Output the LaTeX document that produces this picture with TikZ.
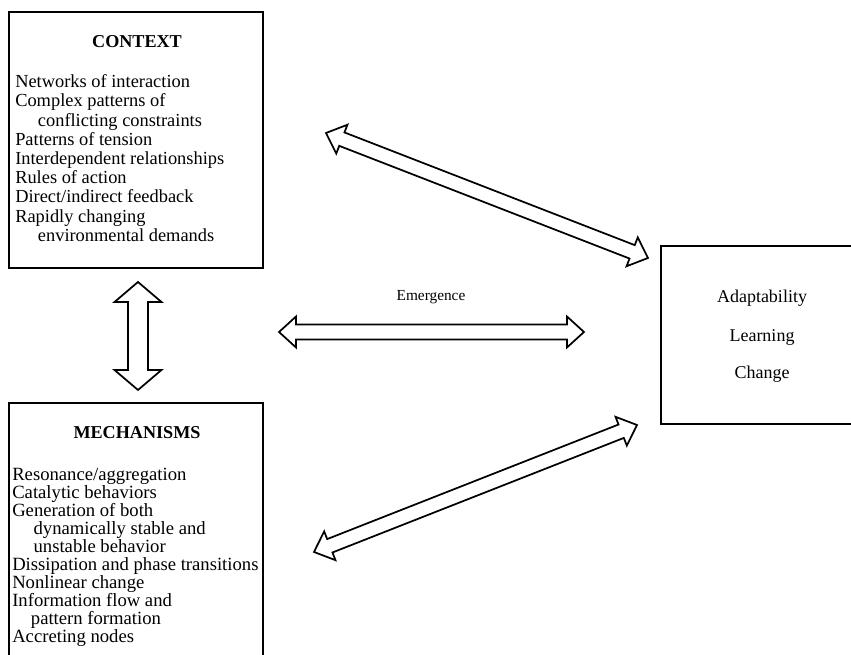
\documentclass[tikz,border=0pt]{standalone}
\usepackage{fontspec}
\setmainfont{Liberation Serif}
\usetikzlibrary{calc}
\def\dblarrow[#1](#2)(#3)(#4:#5:#6){\draw[#1] (#2) -- ($(#2)!#6!(#3)!#5!90:(#3)$) -- ($(#2)!#6!(#3)!#4!90:(#3)$) -- ($(#3)!#6!(#2)!#4!-90:(#2)$) -- ($(#3)!#6!(#2)!#5!-90:(#2)$) -- (#3) -- ($(#3)!#6!(#2)!#5!90:(#2)$) -- ($(#3)!#6!(#2)!#4!90:(#2)$) -- ($(#2)!#6!(#3)!#4!-90:(#3)$) -- ($(#2)!#6!(#3)!#5!-90:(#3)$) -- cycle;}

\begin{document}
\begin{tikzpicture}[x=0.75pt, y=-0.75pt,
		box/.style={draw, line width=1.7pt, inner sep=0pt},
		heading/.style={font=\fontsize{13.6}{14.5}\selectfont\bfseries, anchor=base, inner sep=0pt},
		itemlist/.style={align=left, anchor=north west, inner sep=0pt}]
			%%%%% START %%%%%
			
			\useasboundingbox (0, 0) rectangle (851, 655);
			
			\node[box, minimum width=190.5pt, minimum height=192pt] (context) at (136, 140) {};
			\node[heading] (contexttitle) at (137, 48) {CONTEXT};
			\node[itemlist, font=\fontsize{13.8}{14.4}\selectfont] (contextitems) at (15, 74.5) {Networks of interaction\\
				Complex patterns of\\
				\hspace*{17pt}conflicting constraints\\
				Patterns of tension\\
				Interdependent relationships\\
				Rules of action\\
				Direct/indirect feedback\\
				Rapidly changing\\
				\hspace*{17pt}environmental demands};
			
			\node[box, minimum width=190.5pt, minimum height=215.25pt] (mechanisms) at (136, 546.5) {};
			\node[heading] (mechanismstitle) at (137, 439) {MECHANISMS};
			\node[itemlist, font=\fontsize{14}{13.5}\selectfont] (mechanismsitems) at (12, 467.5) {Resonance/aggregation\\
				Catalytic behaviors\\
				Generation of both\\
				\hspace*{16pt}dynamically stable and\\
				\hspace*{16pt}unstable behavior\\
				Dissipation and phase transitions\\
				Nonlinear change\\
				Information flow and\\
				\hspace*{14pt}pattern formation\\
				Accreting nodes};
			
			\node[box, minimum width=156.75pt, minimum height=133.5pt] (outcome) at (765.5, 335) {};
			\node[anchor=base, inner sep=0pt, font=\fontsize{13.5}{14.5}\selectfont] (adapt) at (762, 303) {Adaptability};
			\node[anchor=base, inner sep=0pt, font=\fontsize{13.5}{14.5}\selectfont] (learn) at (762, 341.5) {Learning};
			\node[anchor=base, inner sep=0pt, font=\fontsize{13.5}{14.5}\selectfont] (change) at (762, 379) {Change};
			
			\node[anchor=base, inner sep=0pt, font=\fontsize{11.5}{13}\selectfont] (emergence) at (431, 300.5) {Emergence};
			
			\coordinate (ctxS) at (138, 282);
			\coordinate (mechN) at (138, 390);
			\coordinate (emL) at (279, 332);
			\coordinate (emR) at (584, 332);
			\coordinate (upL) at (326, 133);
			\coordinate (upR) at (648, 258);
			\coordinate (loL) at (314, 552);
			\coordinate (loR) at (637, 425);
			
			\dblarrow[line width=1.3pt, fill=white](ctxS)(mechN)(7.5pt:17.6pt:15pt);
			\dblarrow[line width=1.3pt, fill=white](emL)(emR)(5.6pt:11.6pt:12.75pt);
			\dblarrow[line width=1.3pt, fill=white](upL)(upR)(5.4pt:11.6pt:12.75pt);
			\dblarrow[line width=1.3pt, fill=white](loL)(loR)(5.4pt:11.6pt:12.75pt);
			
			%%%%% END %%%%%
\end{tikzpicture}
\end{document}
